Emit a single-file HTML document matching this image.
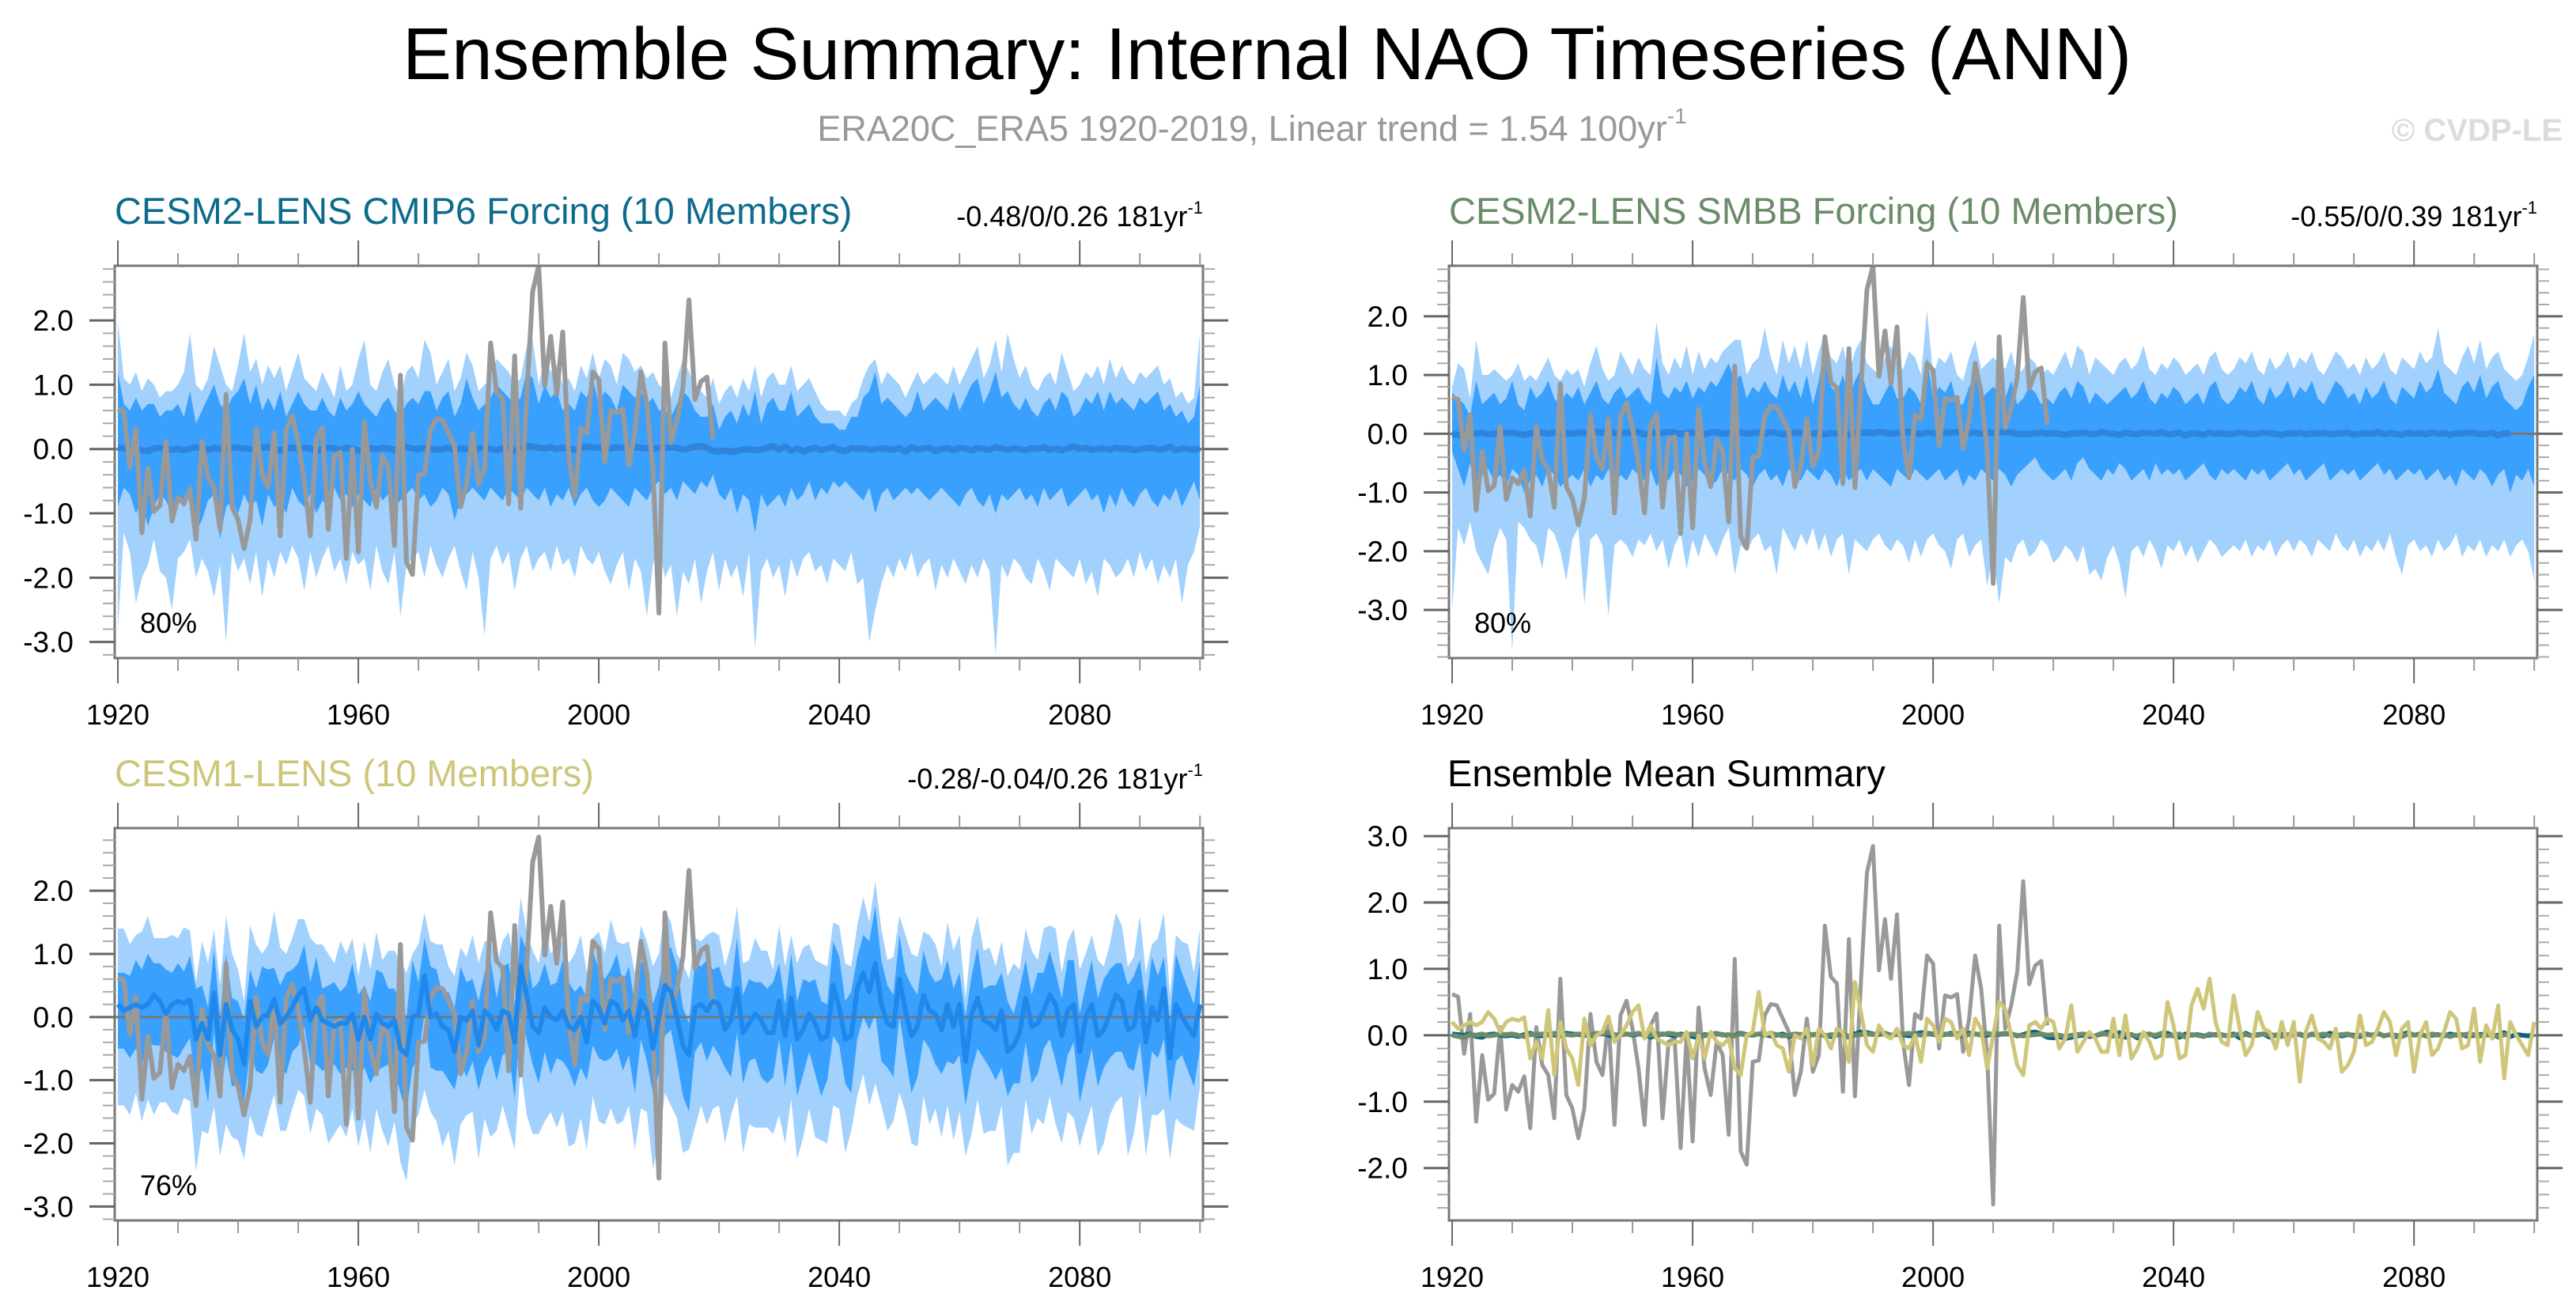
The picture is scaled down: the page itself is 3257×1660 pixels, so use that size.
<!DOCTYPE html>
<html><head><meta charset="utf-8"><title>Ensemble Summary: Internal NAO Timeseries (ANN)</title>
<style>
html,body{margin:0;padding:0;background:#fff;}
svg{display:block;font-family:"Liberation Sans",Arial,sans-serif;}
</style></head>
<body>
<svg id="fig" xmlns="http://www.w3.org/2000/svg" width="3257" height="1660" viewBox="0 0 3257 1660">
<rect width="3257" height="1660" fill="#fff"/>
<text x="1602" y="100" font-size="93" text-anchor="middle" fill="#000">Ensemble Summary: Internal NAO Timeseries (ANN)</text>
<text x="1583" y="178" font-size="45" text-anchor="middle" fill="#999">ERA20C_ERA5 1920-2019, Linear trend = 1.54 100yr<tspan font-size="28" dy="-22">-1</tspan></text>
<text x="3240" y="178" font-size="40" font-weight="bold" text-anchor="end" fill="#dcdcdc">© CVDP-LE</text>
</svg>
<script>
// ---------- data ----------
const startYear = 1920;
const obsValues = [0.62,0.58,-0.28,0.32,-1.3,-0.3,-0.97,-0.88,0.12,-1.12,
-0.75,-0.85,-0.62,-1.4,0.12,-0.45,-0.6,-1.25,0.85,-0.9,
-1.1,-1.55,-1.1,0.32,-0.4,-0.6,0.25,-1.35,0.3,0.52,
0.1,-0.5,-1.35,0.15,0.33,-1.25,-0.1,-0.05,-1.7,0.0,
-1.6,0.42,-0.5,-0.9,-0.1,-0.3,-1.5,1.15,-1.75,-1.95,
-0.4,-0.38,0.3,0.47,0.45,0.25,0.05,-0.9,-0.55,0.25,
-0.55,-0.3,1.65,0.88,0.78,-0.85,1.45,-0.92,0.8,2.45,
2.85,0.98,1.75,0.85,1.82,-0.1,-0.75,0.32,0.25,1.2,
1.08,-0.2,0.6,0.57,0.62,-0.25,0.25,1.2,0.7,-0.3,
-2.55,1.65,0.1,0.45,0.95,2.32,0.77,1.05,1.12,0.15];

const cmip6Hi90 = [2.0,1.1,1.0,1.2,0.9,1.1,1.0,0.8,0.9,0.9,1.0,1.2,1.8,1.0,0.9,1.1,1.6,1.3,1.0,0.9,1.3,1.8,1.2,1.4,1.0,1.3,1.1,1.3,0.9,1.2,1.5,1.1,1.0,0.9,1.2,1.0,0.8,1.3,0.9,1.0,1.4,1.7,1.0,0.9,1.2,1.4,1.0,0.8,1.2,1.3,1.1,1.7,1.5,1.0,1.2,1.4,0.9,1.1,1.5,1.3,0.9,1.0,1.1,1.4,1.3,1.2,1.0,1.1,1.6,1.7,1.0,1.4,1.2,1.3,1.0,1.1,0.9,1.3,1.1,1.5,1.1,1.4,1.3,1.0,1.5,1.4,1.2,1.3,1.1,1.2,1.0,0.9,0.8,1.1,1.4,1.2,1.0,0.9,0.8,1.1,0.7,0.9,1.0,0.8,1.1,0.9,1.3,0.8,1.1,1.2,1.0,1.0,1.3,0.9,1.0,1.1,0.9,0.7,0.6,0.6,0.6,0.5,0.7,0.8,1.1,1.3,1.4,1.0,1.2,1.1,1.0,0.8,1.0,1.2,1.0,1.1,1.2,1.1,1.0,1.3,1.0,1.2,1.4,1.6,1.1,1.3,1.7,1.2,1.8,1.4,1.1,1.3,1.0,0.9,1.1,1.2,1.0,1.5,1.2,0.9,1.0,1.2,1.1,1.3,1.0,1.4,1.1,1.3,1.1,1.0,1.2,1.1,1.2,1.3,1.0,1.1,0.8,0.9,0.7,0.8,1.8];
const cmip6HiDark = [1.2,0.7,0.6,0.8,0.6,0.7,0.7,0.5,0.6,0.6,0.7,0.5,0.9,0.4,0.6,0.8,1.0,0.7,0.6,0.8,0.9,1.1,0.7,1.0,0.6,0.8,0.6,0.9,0.5,0.7,0.9,0.7,0.6,0.6,0.8,0.6,0.5,0.8,0.6,0.7,0.9,0.7,0.6,0.5,0.7,0.8,0.6,0.5,0.7,0.8,0.7,0.9,0.9,0.6,0.8,0.9,0.5,0.7,1.1,0.8,0.6,0.7,0.8,1.0,0.9,0.8,0.7,0.8,1.2,1.1,0.7,1.0,0.8,0.9,0.6,0.7,0.6,0.9,0.8,1.1,0.7,0.9,0.8,0.6,1.0,0.9,0.8,0.9,0.7,0.8,0.6,0.6,0.5,0.7,0.9,0.8,0.6,0.5,0.5,0.7,0.3,0.5,0.6,0.4,0.7,0.5,0.9,0.4,0.7,0.8,0.6,0.6,0.9,0.5,0.6,0.7,0.5,0.4,0.4,0.4,0.3,0.3,0.5,0.5,0.8,0.9,1.2,0.7,0.8,0.7,0.6,0.5,0.6,0.9,0.6,0.7,0.8,0.7,0.6,0.9,0.6,0.8,1.0,1.1,0.7,0.9,1.2,0.8,0.9,0.7,0.6,0.8,0.6,0.5,0.7,0.8,0.6,0.9,0.8,0.5,0.6,0.8,0.7,0.9,0.6,0.9,0.7,0.8,0.7,0.6,0.8,0.7,0.8,0.9,0.6,0.7,0.5,0.6,0.4,0.5,1.0];
const cmip6LoDark = [-0.9,-0.6,-0.7,-1.0,-0.8,-1.2,-0.9,-0.7,-0.8,-1.0,-0.8,-0.9,-0.6,-1.3,-1.1,-0.8,-0.7,-1.4,-0.9,-0.8,-1.0,-0.7,-0.9,-0.8,-1.2,-0.7,-0.9,-0.8,-1.0,-0.6,-0.8,-0.9,-0.7,-1.0,-0.8,-0.9,-0.6,-0.8,-0.7,-0.9,-0.7,-0.8,-0.9,-0.6,-0.8,-0.7,-0.9,-0.8,-0.7,-0.6,-0.8,-0.7,-0.9,-0.8,-0.6,-0.7,-1.1,-0.8,-0.7,-0.6,-0.7,-0.8,-0.6,-0.7,-0.8,-0.6,-0.7,-0.8,-0.6,-0.7,-0.8,-0.6,-0.9,-0.7,-0.8,-0.6,-0.9,-0.7,-0.6,-0.8,-0.9,-0.8,-0.6,-0.7,-0.8,-0.9,-0.6,-0.7,-0.8,-0.6,-0.5,-0.7,-0.6,-0.8,-0.5,-0.6,-0.7,-0.5,-0.6,-0.4,-0.7,-0.8,-0.6,-1.0,-0.7,-0.8,-1.3,-0.7,-0.9,-0.8,-0.7,-0.9,-0.6,-0.8,-0.7,-0.5,-0.8,-0.6,-0.7,-0.5,-0.6,-0.5,-0.6,-0.7,-0.8,-0.6,-1.0,-0.7,-0.6,-0.8,-0.7,-0.6,-0.7,-0.6,-0.7,-0.8,-0.7,-0.6,-0.7,-0.8,-0.9,-0.7,-0.6,-0.8,-0.9,-0.7,-1.0,-0.7,-0.8,-0.7,-0.6,-0.8,-0.7,-0.9,-0.6,-0.8,-0.7,-0.6,-0.9,-0.8,-0.7,-0.6,-0.8,-0.7,-1.0,-0.7,-0.9,-0.6,-0.8,-0.9,-0.7,-0.6,-0.8,-0.9,-0.7,-0.8,-0.6,-0.9,-0.7,-0.5,-0.8];
const cmip6Lo90 = [-2.8,-1.3,-1.6,-2.4,-2.0,-1.8,-1.4,-1.9,-2.0,-2.5,-1.7,-1.6,-1.4,-2.0,-1.7,-1.9,-2.3,-1.8,-3.0,-1.6,-1.9,-1.7,-2.1,-1.6,-2.3,-1.7,-2.0,-1.6,-1.8,-1.5,-1.7,-2.2,-1.6,-2.0,-1.7,-1.5,-1.9,-1.7,-2.1,-1.6,-1.8,-1.7,-2.2,-1.5,-1.9,-2.1,-1.6,-2.6,-1.8,-1.7,-1.6,-2.0,-1.5,-1.8,-2.0,-1.7,-1.5,-1.9,-2.2,-1.6,-2.0,-2.9,-1.7,-1.5,-1.8,-1.6,-2.2,-1.7,-1.5,-1.9,-1.7,-1.6,-1.9,-1.5,-1.8,-1.7,-2.0,-1.5,-1.7,-1.8,-1.6,-1.9,-2.1,-1.8,-1.6,-2.2,-1.7,-1.9,-2.6,-1.8,-1.5,-2.0,-1.8,-2.6,-1.9,-2.1,-1.7,-2.4,-1.9,-1.6,-2.2,-1.7,-2.0,-1.8,-2.3,-1.6,-3.1,-1.9,-1.7,-2.0,-1.8,-2.3,-1.7,-2.0,-1.7,-1.6,-1.9,-1.8,-2.1,-1.7,-1.8,-1.9,-1.6,-2.1,-2.0,-3.0,-2.5,-2.1,-1.8,-2.0,-1.7,-1.9,-1.6,-2.0,-1.8,-1.7,-2.2,-1.8,-2.0,-1.7,-1.9,-2.1,-1.8,-2.0,-1.7,-1.9,-3.2,-1.8,-2.0,-1.7,-1.8,-2.0,-2.1,-1.7,-1.9,-2.2,-1.7,-1.8,-1.9,-2.0,-1.7,-2.1,-1.9,-2.3,-1.7,-1.8,-2.0,-1.9,-1.7,-2.0,-1.6,-1.9,-1.7,-2.1,-1.8,-2.0,-1.7,-2.4,-1.8,-1.6,-1.2];
const cmip6Mean = [0.02,0.01,0.0,0.02,-0.02,-0.03,0.01,0.02,0.0,-0.01,0.0,-0.02,0.01,0.03,0.0,-0.01,0.02,0.0,0.01,0.03,0.02,0.01,0.0,-0.01,0.02,0.03,0.0,-0.02,0.01,0.02,0.0,0.02,0.01,-0.03,0.0,0.02,0.01,-0.01,0.02,0.0,-0.02,-0.04,0.01,0.0,0.02,0.01,-0.01,0.0,0.03,0.01,0.0,0.02,0.01,-0.01,0.0,0.02,-0.02,0.01,0.0,-0.01,0.01,0.02,0.0,-0.02,0.01,0.03,-0.03,0.02,0.05,0.04,0.02,0.01,0.03,0.0,0.02,0.01,-0.01,0.02,0.04,0.03,0.02,0.0,0.01,0.03,0.02,-0.01,0.03,0.02,0.01,0.0,0.02,0.01,0.03,0.02,-0.01,0.01,0.04,0.05,0.02,-0.03,-0.04,-0.02,-0.05,-0.03,-0.01,0.0,-0.02,-0.01,0.02,0.05,-0.01,0.04,-0.03,0.01,-0.04,0.0,0.02,-0.02,0.01,0.03,-0.01,-0.03,0.02,0.0,0.01,-0.01,0.0,0.01,0.0,-0.01,0.02,-0.04,0.03,-0.01,0.01,0.02,-0.03,0.0,0.02,-0.02,0.02,0.01,-0.02,0.02,0.0,-0.01,0.03,0.01,-0.01,0.01,0.0,-0.02,0.02,0.0,0.03,-0.01,0.01,-0.02,0.01,0.04,0.0,0.02,-0.01,0.0,0.01,-0.01,0.02,0.0,0.01,-0.02,0.0,0.01,0.02,-0.01,0.0,0.04,-0.02,0.01,0.0,-0.01,0.01];

const smbbHi90 = [0.8,1.2,1.1,0.6,1.6,1.0,1.0,1.1,1.0,0.9,1.0,1.2,0.9,1.0,0.9,1.1,1.3,1.0,0.9,1.1,1.0,1.1,0.8,1.2,1.5,1.1,0.9,1.0,1.4,1.2,1.0,1.3,1.1,1.0,1.9,1.2,1.0,1.3,1.1,1.5,1.0,1.4,1.1,1.3,1.2,1.4,1.5,1.6,1.6,1.0,1.2,1.3,1.8,1.3,1.0,1.6,1.2,1.5,1.1,1.6,1.0,1.4,1.7,1.3,1.2,1.5,1.0,1.4,1.6,1.2,1.1,1.0,1.3,1.5,1.2,1.1,1.4,1.3,1.0,2.1,1.0,1.3,1.2,1.4,1.0,0.9,1.3,1.6,1.1,1.2,1.3,1.2,1.1,1.4,1.0,1.1,1.3,1.2,1.0,1.1,1.0,1.2,1.4,1.1,1.5,1.4,1.0,1.3,1.2,1.1,1.0,1.2,1.3,1.1,1.2,1.5,1.1,1.0,1.2,1.1,1.3,1.2,1.0,1.1,1.2,1.0,1.3,1.4,1.1,1.0,1.1,1.3,1.2,1.4,1.1,1.0,1.3,1.1,1.2,1.4,1.1,1.3,1.2,1.4,1.1,1.0,1.2,1.4,1.3,1.1,1.2,1.0,1.3,1.1,1.2,1.4,1.1,1.0,1.3,1.2,1.1,1.4,1.2,1.3,1.8,1.2,1.1,1.0,1.3,1.5,1.2,1.6,1.1,1.3,1.4,1.1,1.0,0.9,1.0,1.3,1.7];
const smbbHiDark = [0.7,0.6,0.5,0.3,0.9,0.5,0.6,0.7,0.5,0.6,0.9,0.5,0.4,0.8,0.6,0.7,0.9,0.6,0.5,0.7,0.6,0.8,0.5,0.7,0.9,0.6,0.5,0.7,0.8,0.6,0.7,0.8,0.6,0.5,1.3,0.7,0.6,0.8,0.7,0.9,0.6,0.8,0.7,0.9,0.8,1.0,1.2,0.9,1.0,0.6,0.8,0.7,0.9,0.7,0.6,1.0,0.7,0.9,0.6,1.0,0.5,0.9,1.5,0.8,0.7,1.0,0.6,0.9,1.1,0.7,0.5,0.5,0.7,0.9,0.6,0.6,0.8,0.7,0.5,1.3,0.6,0.8,0.7,0.9,0.5,0.5,0.8,1.0,0.6,0.7,0.8,0.7,0.6,0.9,0.5,0.6,0.8,0.7,0.5,0.6,0.5,0.7,0.8,0.6,0.9,0.8,0.5,0.7,0.6,0.5,0.6,0.7,0.8,0.6,0.7,0.9,0.6,0.5,0.7,0.6,0.8,0.7,0.5,0.6,0.7,0.5,0.8,0.9,0.6,0.5,0.6,0.8,0.7,0.9,0.6,0.5,0.8,0.6,0.7,0.9,0.6,0.8,0.7,0.9,0.6,0.5,0.7,0.9,0.8,0.6,0.7,0.5,0.8,0.6,0.7,0.9,0.6,0.5,0.8,0.7,0.6,0.9,0.7,0.8,1.1,0.7,0.6,0.5,0.8,0.9,0.7,1.0,0.6,0.8,0.9,0.6,0.5,0.4,0.5,0.8,1.0];
const smbbLoDark = [-0.3,-0.6,-0.9,-0.5,-1.0,-0.7,-0.6,-0.8,-0.7,-0.9,-0.6,-0.7,-1.0,-0.8,-0.7,-0.9,-0.6,-0.7,-0.9,-0.8,-0.7,-0.8,-0.6,-0.9,-0.7,-0.8,-0.6,-0.9,-0.7,-0.8,-0.6,-0.7,-0.8,-0.6,-0.9,-0.7,-0.8,-0.6,-0.7,-0.9,-0.8,-0.6,-0.7,-0.9,-0.8,-0.6,-0.7,-0.8,-0.6,-0.7,-0.9,-0.7,-0.6,-0.8,-0.7,-0.9,-0.6,-0.7,-0.8,-0.6,-0.7,-0.8,-0.6,-0.7,-0.9,-0.6,-0.8,-0.7,-0.6,-0.8,-0.6,-0.7,-0.8,-0.9,-0.6,-0.7,-0.8,-0.6,-0.7,-0.8,-0.7,-0.6,-0.8,-0.7,-0.6,-0.9,-0.7,-0.8,-0.6,-0.7,-0.8,-0.6,-0.7,-0.9,-0.7,-0.6,-0.5,-0.4,-0.6,-0.7,-0.8,-0.7,-0.6,-0.8,-0.5,-0.4,-0.6,-0.7,-0.8,-0.6,-0.7,-0.5,-0.6,-0.8,-0.7,-0.6,-0.8,-0.5,-0.7,-0.6,-0.7,-0.6,-0.8,-0.7,-0.6,-0.5,-0.7,-0.8,-0.6,-0.7,-0.6,-0.7,-0.8,-0.6,-0.7,-0.6,-0.8,-0.7,-0.6,-0.5,-0.7,-0.6,-0.8,-0.7,-0.6,-0.5,-0.8,-0.7,-0.6,-0.7,-0.6,-0.8,-0.7,-0.6,-0.5,-0.7,-0.6,-0.8,-0.7,-0.6,-0.7,-0.6,-0.8,-0.7,-0.6,-0.8,-0.7,-0.9,-0.6,-0.7,-0.8,-0.6,-0.7,-0.9,-0.7,-0.6,-1.0,-0.7,-0.8,-0.6,-0.9];
const smbbLo90 = [-3.0,-1.6,-1.9,-1.5,-2.0,-2.2,-2.4,-1.9,-1.6,-1.8,-3.7,-1.5,-1.6,-1.8,-1.9,-2.3,-1.6,-1.7,-2.0,-2.5,-1.8,-1.6,-2.9,-1.8,-1.7,-1.9,-3.1,-1.9,-1.8,-1.9,-2.1,-1.8,-1.9,-1.7,-2.0,-1.8,-2.3,-1.9,-1.7,-2.3,-1.8,-2.1,-1.7,-1.9,-2.1,-1.8,-1.6,-2.4,-1.9,-2.0,-1.8,-1.7,-2.0,-1.9,-2.4,-1.6,-1.8,-2.0,-1.7,-1.9,-1.6,-2.0,-1.7,-2.1,-1.8,-1.7,-2.4,-1.8,-1.9,-2.0,-1.8,-1.7,-1.9,-2.0,-1.8,-1.9,-2.2,-1.8,-2.1,-1.8,-1.7,-1.9,-2.0,-2.3,-1.8,-1.7,-2.1,-1.9,-1.8,-2.6,-2.0,-2.9,-2.1,-2.2,-1.9,-1.8,-2.1,-2.0,-1.8,-1.9,-2.2,-2.1,-1.9,-2.0,-2.2,-1.9,-2.4,-2.3,-2.5,-2.1,-1.9,-2.2,-2.8,-2.0,-1.9,-2.1,-1.8,-2.0,-2.3,-1.9,-2.0,-1.8,-2.1,-1.9,-2.2,-2.0,-1.8,-1.9,-2.1,-2.0,-1.9,-2.0,-1.8,-2.1,-1.9,-2.0,-1.8,-2.1,-1.9,-1.8,-2.0,-1.8,-1.9,-2.1,-1.8,-1.9,-2.0,-1.7,-1.9,-2.0,-1.8,-2.1,-1.9,-2.0,-1.8,-2.0,-1.7,-2.1,-2.4,-1.9,-1.8,-2.0,-1.9,-2.1,-1.8,-2.0,-1.9,-1.7,-2.1,-1.9,-2.0,-1.8,-2.1,-1.9,-2.0,-1.8,-2.1,-1.9,-1.8,-2.0,-2.5];
const smbbMean = [0.0,-0.02,-0.03,0.01,0.0,0.02,-0.01,0.0,0.02,0.01,0.02,0.0,-0.02,0.01,0.01,0.02,0.0,0.03,-0.01,0.01,0.0,0.02,0.01,0.0,0.03,0.02,0.04,0.01,0.0,0.02,0.01,0.03,-0.01,0.0,0.02,0.01,0.03,0.02,0.0,0.01,0.02,0.0,-0.01,0.02,0.03,0.0,0.01,-0.01,0.02,0.0,0.01,0.02,0.0,0.03,0.01,-0.01,0.0,0.02,0.01,0.03,0.0,0.02,-0.01,0.01,0.0,0.02,-0.02,0.0,0.01,0.02,0.01,0.03,0.02,0.0,0.01,0.02,0.03,0.01,0.0,0.02,0.01,0.0,0.02,0.01,0.03,0.0,0.01,0.02,0.0,0.03,0.01,0.02,0.03,0.02,0.0,-0.01,0.0,0.01,0.02,0.0,0.01,0.0,-0.02,0.0,0.01,0.02,0.0,-0.01,0.03,0.01,0.0,-0.02,0.02,0.0,-0.01,0.02,0.01,0.0,0.03,-0.01,0.0,0.02,-0.03,0.01,0.0,-0.02,0.02,0.0,0.01,-0.01,0.0,0.02,0.01,-0.01,0.0,0.02,0.01,0.0,-0.02,0.01,0.0,0.02,-0.01,0.01,0.0,0.02,-0.01,0.0,0.01,0.02,-0.02,0.0,0.01,0.0,0.03,-0.01,0.01,0.0,-0.02,0.02,0.0,0.01,-0.01,0.02,0.0,0.01,-0.02,0.01,0.0,0.02,0.01,-0.01,0.0,0.02,-0.03,0.01,0.0];

const cesm1Mean = [
0.2,0.1,0.15,0.2,0.15,0.2,0.35,0.25,0.05,0.2,
0.25,0.22,0.27,-0.35,-0.1,-0.35,0.38,-0.6,0.2,-0.2,
-0.35,-0.75,0.25,-0.15,0.0,0.05,0.28,-0.1,0.0,0.15,
0.35,0.45,-0.05,0.15,-0.05,-0.1,-0.15,-0.1,-0.1,0.05,
-0.35,0.0,-0.35,0.05,-0.1,-0.15,-0.05,-0.5,-0.6,0.0,
0.05,0.65,0.0,0.05,-0.15,-0.2,-0.55,0.0,-0.05,0.1,
-0.45,0.1,0.0,-0.2,0.1,0.05,-0.4,0.8,0.35,-0.15,
-0.25,0.15,0.0,-0.05,0.1,-0.15,-0.2,0.0,-0.4,0.25,
0.15,-0.1,0.25,0.2,-0.05,0.1,-0.3,0.25,0.1,-0.5,
0.0,0.5,0.4,0.0,-0.45,-0.6,0.15,0.2,0.1,0.25,
0.2,-0.2,-0.05,0.45,-0.25,-0.1,0.05,-0.05,-0.25,-0.25,
0.25,-0.3,0.3,-0.35,-0.2,0.05,-0.1,-0.35,-0.3,0.5,
0.15,-0.35,-0.3,0.45,0.7,0.4,0.85,0.2,-0.1,-0.15,
0.6,0.1,-0.3,-0.15,0.35,0.1,0.05,-0.2,0.2,-0.15,
0.2,-0.7,0.05,0.3,-0.05,-0.1,-0.2,0.1,-0.55,-0.45,
-0.25,0.3,-0.15,-0.1,0.1,0.35,0.2,-0.3,0.1,0.2,
-0.55,0.0,0.2,-0.3,-0.2,0.05,0.35,0.25,-0.2,-0.15,
0.4,-0.4,0.15,-0.05,0.45,-0.65,0.2,0.0,-0.15,-0.3,
0.2];
const cesm1SpreadHi90 = [
1.2,1.3,1.0,1.1,1.2,1.4,0.9,1.0,1.2,1.1,
1.0,1.2,1.1,0.9,1.3,1.2,1.0,1.1,1.4,1.2,
1.1,1.0,1.2,1.3,1.0,1.1,1.4,1.2,1.0,1.1,
1.2,1.1,1.3,1.0,1.2,1.1,1.0,1.3,1.1,1.2,
1.0,1.2,1.1,1.3,1.0,1.2,1.1,1.4,1.3,1.0,
1.1,1.0,1.2,1.1,1.3,1.0,1.2,1.1,1.0,1.2,
1.3,1.1,1.2,1.0,1.1,1.3,1.2,1.1,1.0,1.2,
1.1,1.3,1.0,1.2,1.1,1.0,1.2,1.3,1.1,1.0,
1.2,1.1,1.3,1.0,1.2,1.1,1.0,1.2,1.1,1.3,
1.0,1.2,1.1,1.0,1.3,1.2,1.1,1.0,1.2,1.1,
1.1,1.0,1.2,1.3,1.1,1.0,1.2,1.1,1.3,1.0,
1.2,1.1,1.0,1.2,1.3,1.1,1.0,1.2,1.1,1.0,
1.3,1.2,1.1,1.0,1.2,1.1,1.3,1.2,1.0,1.1,
1.0,1.2,1.3,1.1,1.0,1.2,1.1,1.0,1.3,1.2,
1.1,1.0,1.2,1.3,1.1,1.2,1.0,1.1,1.2,1.3,
1.0,1.1,1.2,1.0,1.3,1.1,1.2,1.0,1.1,1.2,
1.3,1.0,1.1,1.2,1.0,1.1,1.3,1.2,1.0,1.1,
1.2,1.1,1.0,1.3,1.2,1.0,1.1,1.2,1.3,1.0,
1.2];
const cesm1SpreadHiDark = [
0.5,0.6,0.5,0.7,0.6,0.8,0.5,0.6,0.7,0.5,
0.6,0.5,0.7,0.8,0.6,0.5,0.7,0.6,0.8,0.5,
0.6,0.7,0.5,0.6,0.8,0.7,0.5,0.6,0.7,0.6,
0.5,0.7,0.6,0.8,0.5,0.6,0.7,0.5,0.6,0.8,
0.7,0.5,0.6,0.7,0.8,0.6,0.5,0.7,0.6,0.9,
0.5,0.6,0.8,0.7,0.5,0.6,0.7,0.8,0.6,0.5,
0.7,0.6,0.9,0.5,0.7,0.8,0.6,0.5,0.7,0.6,
0.8,0.7,0.5,0.6,0.8,0.7,0.6,0.5,0.7,0.8,
0.6,0.7,0.5,0.8,0.6,0.7,0.5,0.6,0.8,0.7,
0.5,0.6,0.7,0.8,0.6,0.5,0.7,0.6,0.8,0.5,
0.6,0.7,0.5,0.8,0.6,0.7,0.5,0.6,0.7,0.8,
0.6,0.5,0.7,0.6,0.8,0.5,0.7,0.6,0.5,0.7,
0.8,0.6,0.7,0.5,0.6,0.8,0.9,0.7,0.6,0.5,
0.7,0.6,0.8,0.5,0.7,0.6,0.5,0.8,0.7,0.6,
0.5,0.7,0.6,0.8,0.5,0.6,0.7,0.6,0.8,0.5,
0.7,0.6,0.5,0.8,0.6,0.7,0.5,0.6,0.8,0.7,
0.6,0.5,0.7,0.6,0.8,0.7,0.5,0.6,0.7,0.8,
0.5,0.6,0.8,0.7,0.5,0.6,0.8,0.7,0.6,0.5,
0.7];
const cesm1SpreadLoDark = [
0.7,0.6,0.8,0.7,0.9,0.6,0.8,0.7,0.6,0.8,
0.9,0.7,0.6,0.8,0.7,1.0,0.6,0.7,0.8,0.9,
0.7,0.6,0.8,0.7,0.9,0.8,0.6,0.7,0.9,0.7,
0.8,0.6,0.7,0.9,0.8,0.7,0.6,0.8,0.7,0.9,
0.6,0.8,0.7,0.9,0.7,0.6,0.8,0.7,0.9,0.8,
0.7,0.6,0.8,0.9,0.7,0.8,0.6,0.7,0.9,0.8,
0.7,0.9,0.6,0.8,0.7,0.6,0.9,0.8,0.7,0.6,
0.8,0.7,0.9,0.6,0.8,0.7,0.9,0.8,0.6,0.7,
0.8,0.6,0.9,0.7,0.8,0.7,0.9,0.6,0.8,0.7,
0.9,0.8,0.6,0.7,0.8,0.9,0.7,0.6,0.8,0.7,
0.8,0.6,0.9,0.7,0.8,0.6,0.7,0.9,0.8,0.7,
0.6,0.8,0.7,0.9,0.7,0.6,0.8,0.9,0.7,0.8,
0.6,0.7,0.9,0.8,0.7,0.6,0.8,0.9,0.7,0.8,
0.6,0.7,0.9,0.8,0.7,0.6,0.8,0.7,0.9,0.6,
0.8,0.7,0.9,0.8,0.6,0.7,0.8,0.9,0.7,0.6,
0.8,0.7,0.9,0.8,0.6,0.7,0.9,0.8,0.7,0.6,
0.8,0.9,0.7,0.8,0.6,0.7,0.9,0.8,0.6,0.7,
0.8,0.9,0.7,0.6,0.8,0.7,0.9,0.6,0.7,0.8,
0.7];
const cesm1SpreadLo90 = [
1.6,1.5,1.7,1.4,1.8,1.5,1.9,1.6,1.4,1.7,
1.8,1.5,1.6,2.1,1.7,1.5,1.8,1.6,1.9,1.7,
1.6,1.5,1.8,1.7,1.9,1.6,1.5,1.7,1.8,1.6,
1.5,1.7,1.8,1.6,1.5,1.9,1.7,1.6,1.8,1.5,
1.7,1.6,1.8,1.5,1.7,1.9,1.6,1.8,2.0,1.7,
1.6,1.8,1.5,1.7,1.9,1.6,1.8,1.7,1.5,1.6,
1.8,1.7,1.9,1.6,1.5,1.8,1.7,1.6,1.9,1.7,
1.6,1.8,1.5,1.7,1.6,1.9,1.8,1.6,1.7,1.5,
1.8,1.6,1.7,1.9,1.6,1.5,1.8,1.7,1.6,1.9,
2.0,1.7,1.8,1.6,1.7,1.5,1.9,1.6,1.8,1.7,
1.6,1.8,1.5,1.7,1.9,1.6,1.8,1.7,1.5,1.6,
1.8,1.7,1.6,1.9,1.7,1.5,1.8,1.6,1.7,1.9,
1.6,1.8,1.5,1.7,1.6,1.8,1.9,1.6,1.7,1.5,
1.8,1.6,1.7,1.9,1.6,1.8,1.5,1.7,1.6,1.8,
1.7,1.5,1.9,1.6,1.8,1.7,1.6,1.5,1.8,1.7,
1.9,1.6,1.7,1.5,1.8,1.6,1.9,1.7,1.6,1.8,
1.5,1.7,1.6,1.9,1.8,1.6,1.7,1.5,2.0,1.7,
1.6,1.8,1.7,1.5,1.9,1.6,1.8,1.7,1.6,1.5,
1.3];

const xTickLabels = ['1920','1960','2000','2040','2080'];
const yTickLabelsTop = ['-3.0','-2.0','-1.0','0.0','1.0','2.0'];
const yTickLabelsSummary = ['-2.0','-1.0','0.0','1.0','2.0','3.0'];

// ---------- drawing ----------
const NS = 'http://www.w3.org/2000/svg';
const svg = document.getElementById('fig');
function mk(tag, parent) { const e = document.createElementNS(NS, tag); parent.appendChild(e); return e; }
function setA(e, o) { for (const k in o) e.setAttribute(k, o[k]); return e; }

const X_MIN = 1919.47, X_MAX = 2100.5;

function drawPanel(cfg) {
  const g = mk('g', svg);
  
  
  const sx = yr => cfg.x0 + (yr - X_MIN) / (X_MAX - X_MIN) * (cfg.x1 - cfg.x0);
  const sy = v => cfg.y0 + (cfg.ymax - v) / (cfg.ymax - cfg.ymin) * (cfg.y1 - cfg.y0);

  const clipId = cfg.name + '-clip';
  const cp = mk('clipPath', g); cp.setAttribute('id', clipId);
  const cr = mk('rect', cp);
  setA(cr, {x: cfg.x0, y: cfg.y0, width: cfg.x1 - cfg.x0, height: cfg.y1 - cfg.y0});

  const plot = mk('g', g);
  plot.setAttribute('clip-path', 'url(#' + clipId + ')');
  
  

  function band(hi, lo, color, nm) {
    const n = Math.min(hi.length, lo.length);
    let d = '';
    for (let i = 0; i < n; i++) d += (i ? 'L' : 'M') + sx(startYear + i).toFixed(1) + ',' + sy(hi[i]).toFixed(1);
    for (let i = n - 1; i >= 0; i--) d += 'L' + sx(startYear + i).toFixed(1) + ',' + sy(lo[i]).toFixed(1);
    d += 'Z';
    const p = mk('path', plot);
    setA(p, {d: d, fill: color, stroke: 'none'});
    
    
  }
  function line(vals, color, w, nm) {
    let d = '';
    for (let i = 0; i < vals.length; i++) d += (i ? 'L' : 'M') + sx(startYear + i).toFixed(1) + ',' + sy(vals[i]).toFixed(1);
    const p = mk('path', plot);
    setA(p, {d: d, fill: 'none', stroke: color, 'stroke-width': w, 'stroke-linejoin': 'round'});
    
    
  }

  if (cfg.bands) {
    band(cfg.bands.hi90, cfg.bands.lo90, '#a1d1fc', 'band-outer');
    band(cfg.bands.hiD, cfg.bands.loD, '#3aa0fe', 'band-inner');
  }
  const zl = mk('line', plot);
  setA(zl, {x1: cfg.x0, x2: cfg.x1, y1: sy(0), y2: sy(0), stroke: '#777', 'stroke-width': 3});
  
  

  cfg.lines.forEach(l => line(l.vals, l.color, l.w, l.name));

  const fr = mk('rect', g);
  setA(fr, {x: cfg.x0, y: cfg.y0, width: cfg.x1 - cfg.x0, height: cfg.y1 - cfg.y0, fill: 'none', stroke: '#777', 'stroke-width': 3});
  
  

  for (let yr = 1920; yr <= 2100; yr += 10) {
    const major = (yr - 1920) % 40 === 0;
    const len = major ? 32 : 16;
    const x = sx(yr);
    [[cfg.y0, cfg.y0 - len], [cfg.y1, cfg.y1 + len]].forEach(pr => {
      const t = mk('line', g);
      setA(t, {x1: x, x2: x, y1: pr[0], y2: pr[1], stroke: major ? '#666' : '#999', 'stroke-width': 2});
      
      
    });
  }
  xTickLabels.forEach(lab => {
    const t = mk('text', g);
    setA(t, {x: sx(+lab), y: cfg.y1 + 84, 'font-size': 36, 'text-anchor': 'middle', fill: '#000'});
    t.textContent = lab;
    
    
  });
  const start = Math.ceil(cfg.ymin * 5), end = Math.floor(cfg.ymax * 5);
  for (let k = start; k <= end; k++) {
    const v = k / 5, major = k % 5 === 0, y = sy(v);
    const len = major ? 32 : 15;
    [[cfg.x0, cfg.x0 - len], [cfg.x1, cfg.x1 + len]].forEach(pr => {
      const t = mk('line', g);
      setA(t, {x1: pr[0], x2: pr[1], y1: y, y2: y, stroke: major ? '#666' : '#aaa', 'stroke-width': major ? 3 : 2});
      
      
    });
  }
  cfg.yLabels.forEach(lab => {
    const t = mk('text', g);
    setA(t, {x: cfg.x0 - 52, y: sy(+lab) + 13, 'font-size': 37, 'text-anchor': 'end', fill: '#000'});
    t.textContent = lab;
    
    
  });
  const tt = mk('text', g);
  setA(tt, {x: cfg.titleX, y: cfg.y0 - 53, 'font-size': 47, fill: cfg.titleColor});
  tt.textContent = cfg.title;
  
  
  if (cfg.trend) {
    const tr = mk('text', g);
    setA(tr, {x: cfg.x1, y: cfg.y0 - 50, 'font-size': 36, 'text-anchor': 'end', fill: '#000'});
    tr.textContent = cfg.trend;
    const sup = mk('tspan', tr);
    setA(sup, {'font-size': 22, dy: -16});
    sup.textContent = '-1';
    
    
  }
  if (cfg.pct) {
    const pt = mk('text', g);
    setA(pt, {x: cfg.x0 + 32, y: cfg.y1 - 32, 'font-size': 36, fill: '#000'});
    pt.textContent = cfg.pct;
    
    
  }
}

drawPanel({name: 'panel-cesm2-cmip6', x0: 145, x1: 1521, y0: 336, y1: 832, ymin: -3.25, ymax: 2.85,
  yLabels: yTickLabelsTop, title: 'CESM2-LENS CMIP6 Forcing (10 Members)', titleColor: '#0d6b8c', titleX: 145,
  trend: '-0.48/0/0.26 181yr', pct: '80%',
  bands: {hi90: cmip6Hi90, lo90: cmip6Lo90, hiD: cmip6HiDark, loD: cmip6LoDark},
  lines: [{vals: cmip6Mean, color: '#2f84dc', w: 8, name: 'ensemble-mean-line'}, {vals: obsValues, color: '#999', w: 6, name: 'observed-line'}]});

drawPanel({name: 'panel-cesm2-smbb', x0: 1832, x1: 3208, y0: 336, y1: 832, ymin: -3.82, ymax: 2.86,
  yLabels: yTickLabelsTop, title: 'CESM2-LENS SMBB Forcing (10 Members)', titleColor: '#6a8c69', titleX: 1832,
  trend: '-0.55/0/0.39 181yr', pct: '80%',
  bands: {hi90: smbbHi90, lo90: smbbLo90, hiD: smbbHiDark, loD: smbbLoDark},
  lines: [{vals: smbbMean, color: '#2f84dc', w: 8, name: 'ensemble-mean-line'}, {vals: obsValues, color: '#999', w: 6, name: 'observed-line'}]});

const cesm1Hi90 = cesm1Mean.map((m, i) => m + cesm1SpreadHi90[i]);
const cesm1HiD = cesm1Mean.map((m, i) => m + cesm1SpreadHiDark[i]);
const cesm1LoD = cesm1Mean.map((m, i) => m - cesm1SpreadLoDark[i]);
const cesm1Lo90 = cesm1Mean.map((m, i) => m - cesm1SpreadLo90[i]);

drawPanel({name: 'panel-cesm1', x0: 145, x1: 1521, y0: 1047, y1: 1543, ymin: -3.22, ymax: 2.99,
  yLabels: yTickLabelsTop, title: 'CESM1-LENS (10 Members)', titleColor: '#cdc67a', titleX: 145,
  trend: '-0.28/-0.04/0.26 181yr', pct: '76%',
  bands: {hi90: cesm1Hi90, lo90: cesm1Lo90, hiD: cesm1HiD, loD: cesm1LoD},
  lines: [{vals: obsValues, color: '#999', w: 6, name: 'observed-line'}, {vals: cesm1Mean, color: '#1f88ea', w: 6, name: 'ensemble-mean-line'}]});

drawPanel({name: 'panel-ensemble-mean-summary', x0: 1832, x1: 3208, y0: 1047, y1: 1543, ymin: -2.79, ymax: 3.12,
  yLabels: yTickLabelsSummary, title: 'Ensemble Mean Summary', titleColor: '#000', titleX: 1830,
  lines: [{vals: obsValues, color: '#999', w: 5, name: 'observed-line'},
          {vals: cmip6Mean, color: '#0a6485', w: 6, name: 'cesm2-cmip6-mean-line'},
          {vals: smbbMean, color: '#6a8c69', w: 6, name: 'cesm2-smbb-mean-line'},
          {vals: cesm1Mean, color: '#cfc679', w: 5, name: 'cesm1-mean-line'}]});
</script>
</body></html>
